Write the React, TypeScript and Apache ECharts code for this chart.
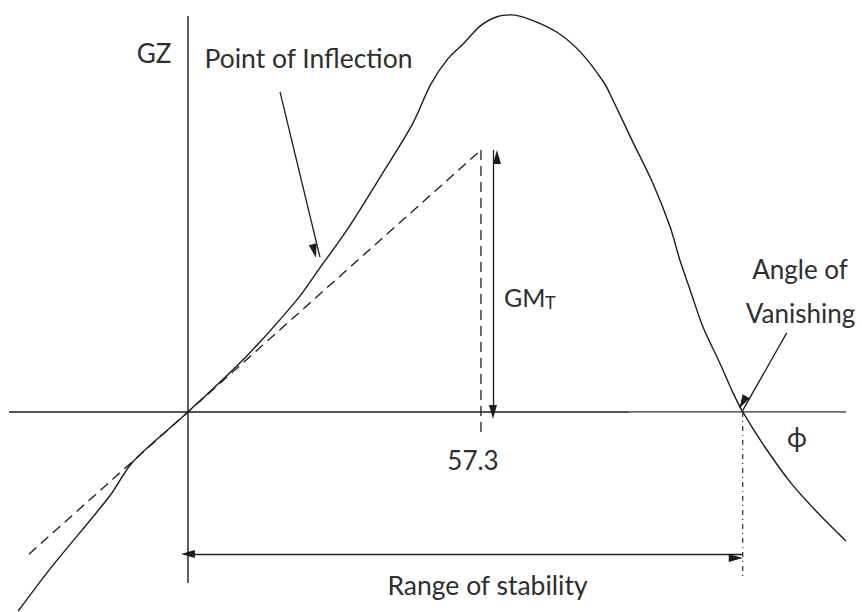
import React, { useEffect, useRef } from "react";
import * as echarts from "echarts";

// GZ curve (heel angle in degrees, GZ in units of GM_T)
const curveAngle = [-33.2, -27.0, -15.3, -10.8, 0, 11.5, 21.3, 25.8, 31.1, 37.6, 44.0, 47.5, 50.9, 54.0, 57.3, 60.6, 63.2, 67.1, 72.4, 76.9, 81.4, 83.1, 86.8, 90.9, 94.3, 96.2, 98.2, 100.7, 104.0, 106.6, 108.5, 112.7, 117.9, 123.2, 128.7];
const curveGZ = [-0.76, -0.6, -0.321, -0.191, 0, 0.214, 0.428, 0.55, 0.695, 0.897, 1.103, 1.252, 1.35, 1.409, 1.476, 1.51, 1.516, 1.497, 1.447, 1.371, 1.256, 1.191, 1.039, 0.874, 0.706, 0.58, 0.466, 0.325, 0.187, 0.073, 0, -0.13, -0.271, -0.386, -0.493];

// Tangent at origin (slope GM_T per radian)
const tangentAngle = [-31.1, 57.3];
const tangentGZ = [-0.543, 1];

// Axes extents
const phiAxisDark = [-35, 86.3];
const phiAxisLight = [86.3, 128.7];
const gzAxis = [-0.653, 1.512];

// Key values
const radianAngle = 57.3;
const gmT = 1;
const vanishingAngle = 108.5;
const dropBelow57 = -0.08;
const dropBelowVanishing = -0.634;
const rangeArrowGZ = -0.542;
const gmArrowAngle = 59.65;
const inflectionArrow = [[18.0, 1.222], [25.8, 0.592]];
const vanishingArrow = [[117.1, 0.302], [vanishingAngle, 0.006]];

const INK = "#1c1c1c";
const TEXT = "#2e2e2e";
const FONT = "Lato";

function seg(xs: number[], ys: number[]) {
  return xs.map((x, i) => [x, ys[i]]);
}

export default function App() {
  const ref = useRef<HTMLDivElement>(null);
  useEffect(() => {
    if (!ref.current) return;
    const chart = echarts.init(ref.current, undefined, { renderer: "svg" });
    const arrowLine = (a: number[], b: number[], both: boolean, size: number[]) => [
      { coord: a, symbol: both ? "triangle" : "none", symbolSize: size },
      { coord: b, symbol: "triangle", symbolSize: size },
    ];
    const textStyle = (fontSize: number) => ({ fontFamily: FONT, fontSize, fill: TEXT });
    chart.setOption({
      animation: false,
      backgroundColor: "#ffffff",
      grid: { left: 9, right: 9.3, top: 6, bottom: 1 },
      xAxis: { type: "value", min: -35, max: 130, show: false },
      yAxis: { type: "value", min: -0.76, max: 1.55, show: false },
      series: [
        {
          name: "phi axis",
          type: "line",
          data: seg(phiAxisDark, [0, 0]),
          symbol: "none",
          lineStyle: { color: INK, width: 1.6 },
          silent: true,
        },
        {
          name: "phi axis (light)",
          type: "line",
          data: seg(phiAxisLight, [0, 0]),
          symbol: "none",
          lineStyle: { color: "#6a6a6a", width: 1.8 },
          silent: true,
        },
        {
          name: "GZ axis",
          type: "line",
          data: seg([0, 0], gzAxis),
          symbol: "none",
          lineStyle: { color: INK, width: 1.4 },
          silent: true,
        },
        {
          name: "tangent",
          type: "line",
          data: seg(tangentAngle, tangentGZ),
          symbol: "none",
          lineStyle: { color: INK, width: 1.3, type: [10, 6] },
          silent: true,
        },
        {
          name: "57.3 drop",
          type: "line",
          data: seg([radianAngle, radianAngle], [gmT, dropBelow57]),
          symbol: "none",
          lineStyle: { color: INK, width: 1.3, type: [10, 6] },
          silent: true,
        },
        {
          name: "vanishing drop",
          type: "line",
          data: seg([vanishingAngle, vanishingAngle], [0, dropBelowVanishing]),
          symbol: "none",
          lineStyle: { color: INK, width: 1.1, type: [5, 4, 1, 4] },
          silent: true,
        },
        {
          name: "GZ curve",
          type: "line",
          data: seg(curveAngle, curveGZ),
          symbol: "none",
          smooth: 0.3,
          clip: false,
          lineStyle: { color: INK, width: 1.4 },
          silent: true,
        },
        {
          name: "arrows",
          type: "line",
          data: [],
          silent: true,
          markLine: {
            silent: true,
            animation: false,
            symbolOffset: [0, "50%"],
            label: { show: false },
            lineStyle: { color: INK, width: 1.3, type: "solid" },
            itemStyle: { color: INK },
            data: [
              arrowLine(inflectionArrow[0], inflectionArrow[1], false, [8, 14]),
              arrowLine([gmArrowAngle, 0], [gmArrowAngle, gmT], true, [8, 14]),
              arrowLine(vanishingArrow[0], vanishingArrow[1], false, [8, 14]),
              arrowLine([0, rangeArrowGZ], [vanishingAngle, rangeArrowGZ], true, [8, 14]),
            ],
          },
        },
      ],
      graphic: [
        { type: "text", x: 154, y: 52.5, style: { ...textStyle(26), text: "GZ", align: "center", verticalAlign: "middle" } },
        { type: "text", x: 308.5, y: 58, style: { ...textStyle(26.5), text: "Point of Inflection", align: "center", verticalAlign: "middle" } },
        { type: "text", x: 504, y: 296.5, style: { ...textStyle(25), text: "GM", align: "left", verticalAlign: "middle" } },
        { type: "text", x: 545, y: 302, style: { ...textStyle(18), text: "T", align: "left", verticalAlign: "middle" } },
        { type: "text", x: 473, y: 459.5, style: { ...textStyle(26), text: "57.3", align: "center", verticalAlign: "middle" } },
        { type: "text", x: 800, y: 269, style: { ...textStyle(26), text: "Angle of", align: "center", verticalAlign: "middle" } },
        { type: "text", x: 800.5, y: 312.5, style: { ...textStyle(26), text: "Vanishing", align: "center", verticalAlign: "middle" } },
        { type: "text", x: 797, y: 436, style: { ...textStyle(27), text: "ϕ", align: "center", verticalAlign: "middle" } },
        { type: "text", x: 487.5, y: 585, style: { ...textStyle(26.5), text: "Range of stability", align: "center", verticalAlign: "middle" } },
      ],
    });
    return () => chart.dispose();
  }, []);
  return (
    <div
      ref={ref}
      style={{ position: "fixed", left: 0, top: 0, width: 862, height: 612, background: "#fff" }}
    />
  );
}
